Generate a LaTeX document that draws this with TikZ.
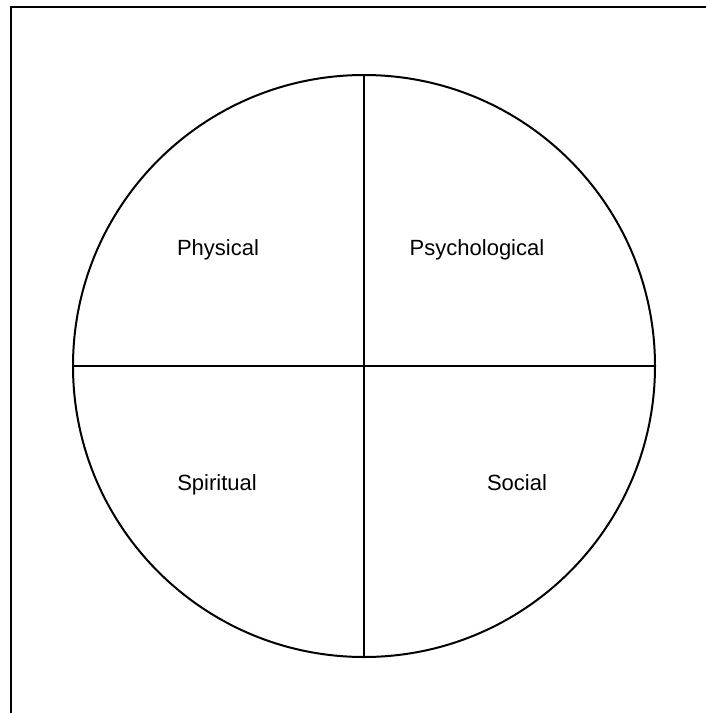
\documentclass[tikz,border=0pt]{standalone}
\usepackage{fontspec}
\setmainfont{Liberation Sans}
\begin{document}
\begin{tikzpicture}[
    x=1pt, y=-1pt,
    ring/.style={circle, draw, line width=2pt, minimum size=582pt, inner sep=0pt, outer sep=0pt},
    split/.style={line width=2pt},
    part/.style={font=\fontsize{22}{26}\selectfont, anchor=base}
]
    \useasboundingbox (0,0) rectangle (705,713);
    \draw[split] (11,720) |- (712,7);

    \node[ring] (wheel) at (364,366) {};
    \draw[split] (wheel.north) -- (wheel.south);
    \draw[split] (wheel.west) -- (wheel.east);

    \node[part] (phys) at (218,255) {Physical};
    \node[part] (psych) at (477,255) {Psychological};
    \node[part] (spirit) at (217,490) {Spiritual};
    \node[part] (soc) at (517,490) {Social};
\end{tikzpicture}
\end{document}
